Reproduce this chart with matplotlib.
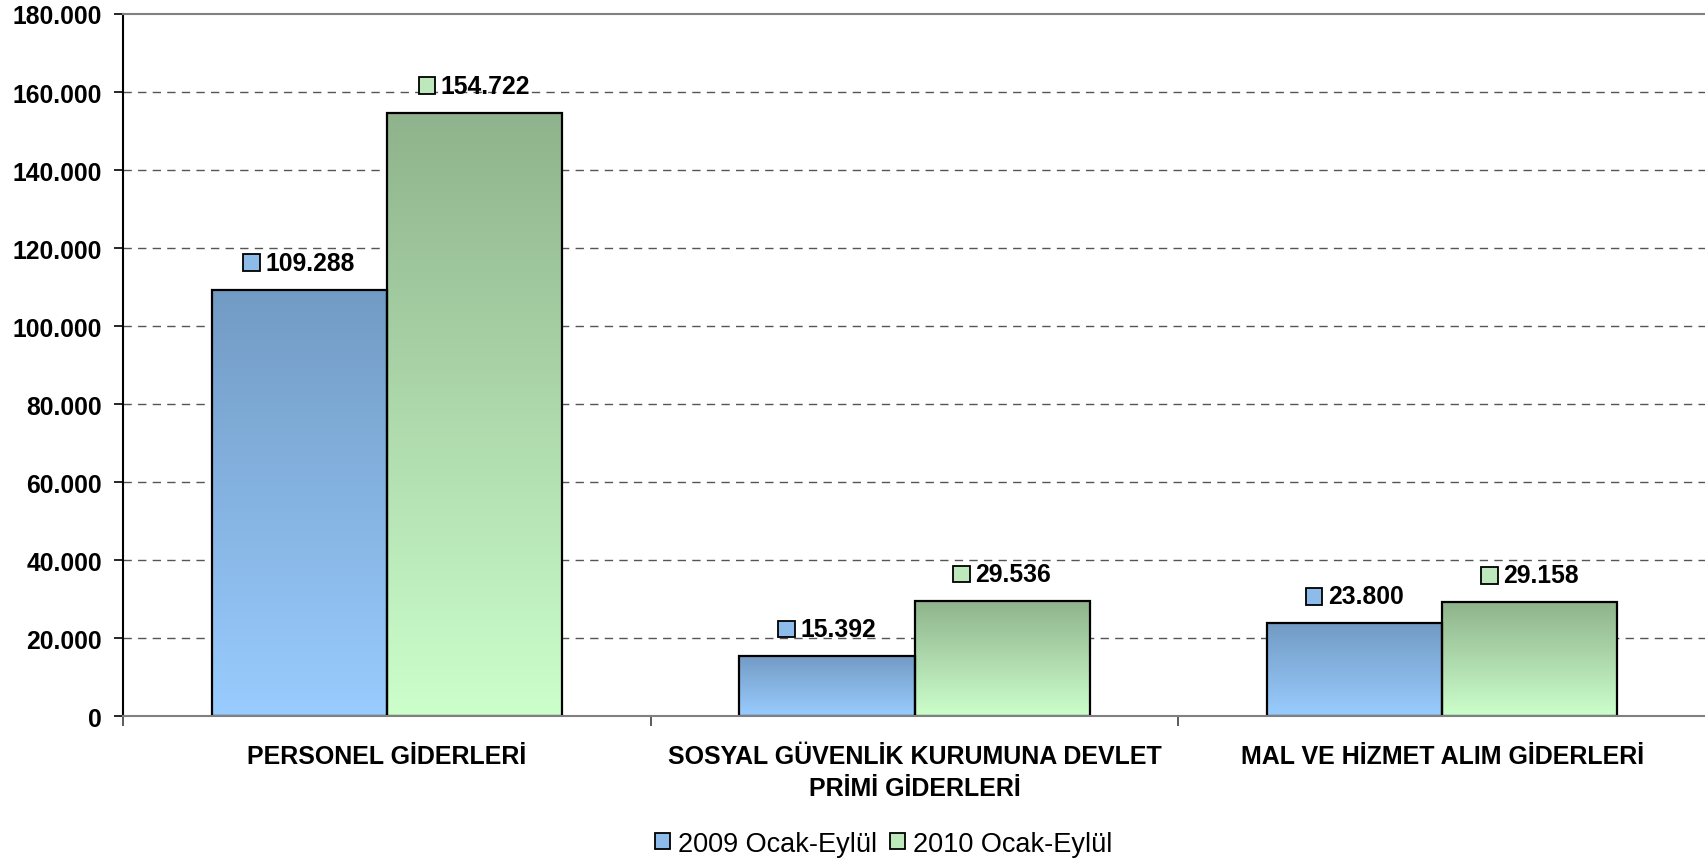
import matplotlib
matplotlib.use("Agg")
import matplotlib.pyplot as plt
import numpy as np
from matplotlib.colors import LinearSegmentedColormap
from matplotlib.patches import Rectangle
from matplotlib.offsetbox import DrawingArea, TextArea, HPacker, AnnotationBbox
from matplotlib.ticker import FixedLocator, FuncFormatter

plt.rcParams['font.family'] = ['Liberation Sans', 'DejaVu Sans']

categories = ["PERSONEL GİDERLERİ",
              "SOSYAL GÜVENLİK KURUMUNA DEVLET\nPRİMİ GİDERLERİ",
              "MAL VE HİZMET ALIM GİDERLERİ"]
series_names = ["2009 Ocak-Eylül", "2010 Ocak-Eylül"]
values_2009 = [109288, 15392, 23800]
values_2010 = [154722, 29536, 29158]

top_colors = ["#729bc4", "#8fb38c"]
bottom_colors = ["#99ccff", "#ccffcc"]
key_colors = ["#8dbbea", "#bde8bb"]

def fmt(v):
    return f"{int(v):,}".replace(",", ".")

fig = plt.figure(figsize=(17.06, 8.62), dpi=100)
ax = fig.add_axes([0.0721, 0.168, 0.9279, 0.8146])

x = np.arange(len(categories))
w = 0.332
grad = np.linspace(0, 1, 256).reshape(-1, 1)
for si, vals in enumerate([values_2009, values_2010]):
    offs = (si - 0.5) * w
    bars = ax.bar(x + offs, vals, width=w, facecolor="none", edgecolor="black",
                  linewidth=1.6, zorder=3)
    cmap = LinearSegmentedColormap.from_list(f"g{si}", [bottom_colors[si], top_colors[si]])
    for b, v in zip(bars, vals):
        x0 = b.get_x()
        im = ax.imshow(grad, cmap=cmap, origin="lower", aspect="auto",
                       extent=(x0, x0 + b.get_width(), 0, v), zorder=2)
        im.set_clip_path(b)
        # data label with key square
        da = DrawingArea(12, 12, 0, 0)
        da.add_artist(Rectangle((0, 0), 12, 12, facecolor=key_colors[si],
                                edgecolor="black", linewidth=1.3))
        ta = TextArea(fmt(v), textprops=dict(fontsize=17.8, fontweight="bold", color="black"))
        pack = HPacker(children=[da, ta], align="center", pad=0, sep=4)
        ab = AnnotationBbox(pack, (x0 + b.get_width() / 2, v), xybox=(0, 19.5),
                            xycoords="data", boxcoords="offset points",
                            frameon=False, box_alignment=(0.5, 0.5), zorder=5)
        ax.add_artist(ab)

ax.set_xlim(-0.5, 2.5)
ax.set_ylim(0, 180000)
yt = np.arange(0, 180001, 20000)
ax.set_yticks(yt)
ax.yaxis.set_major_formatter(FuncFormatter(lambda v, p: fmt(v)))
ax.tick_params(axis="y", length=6.5, width=1.2, pad=8.5, labelsize=17.8)
for lab in ax.get_yticklabels():
    lab.set_fontweight("bold")

ax.set_xticks(x)
ax.set_xticklabels(categories, fontsize=18, fontweight="bold", linespacing=1.42)
ax.tick_params(axis="x", which="major", length=0, pad=20)
ax.xaxis.set_minor_locator(FixedLocator([-0.5, 0.5, 1.5, 2.5]))
ax.tick_params(axis="x", which="minor", length=7, width=1.2, color="#404040")

for yv in yt[1:-1]:
    ax.axhline(yv, color="#555555", linewidth=1.0, linestyle=(0, (6, 4.5)), zorder=1)

ax.spines["left"].set_linewidth(1.5)
ax.spines["left"].set_color("black")
ax.spines["bottom"].set_color("#808080")
ax.spines["bottom"].set_linewidth(1.5)
ax.spines["bottom"].set_zorder(4)
ax.spines["top"].set_color("#808080")
ax.spines["top"].set_linewidth(1.5)
ax.spines["right"].set_visible(False)

handles = [Rectangle((0, 0), 1, 1, facecolor=key_colors[i], edgecolor="black", linewidth=1.3)
           for i in range(2)]
fig.legend(handles, series_names, loc="center", bbox_to_anchor=(0.518, 0.02),
           ncol=2, frameon=False, fontsize=19.5, handlelength=0.55, handleheight=0.55,
           handletextpad=0.3, columnspacing=0.5)

fig.savefig("out.png", dpi=100)
